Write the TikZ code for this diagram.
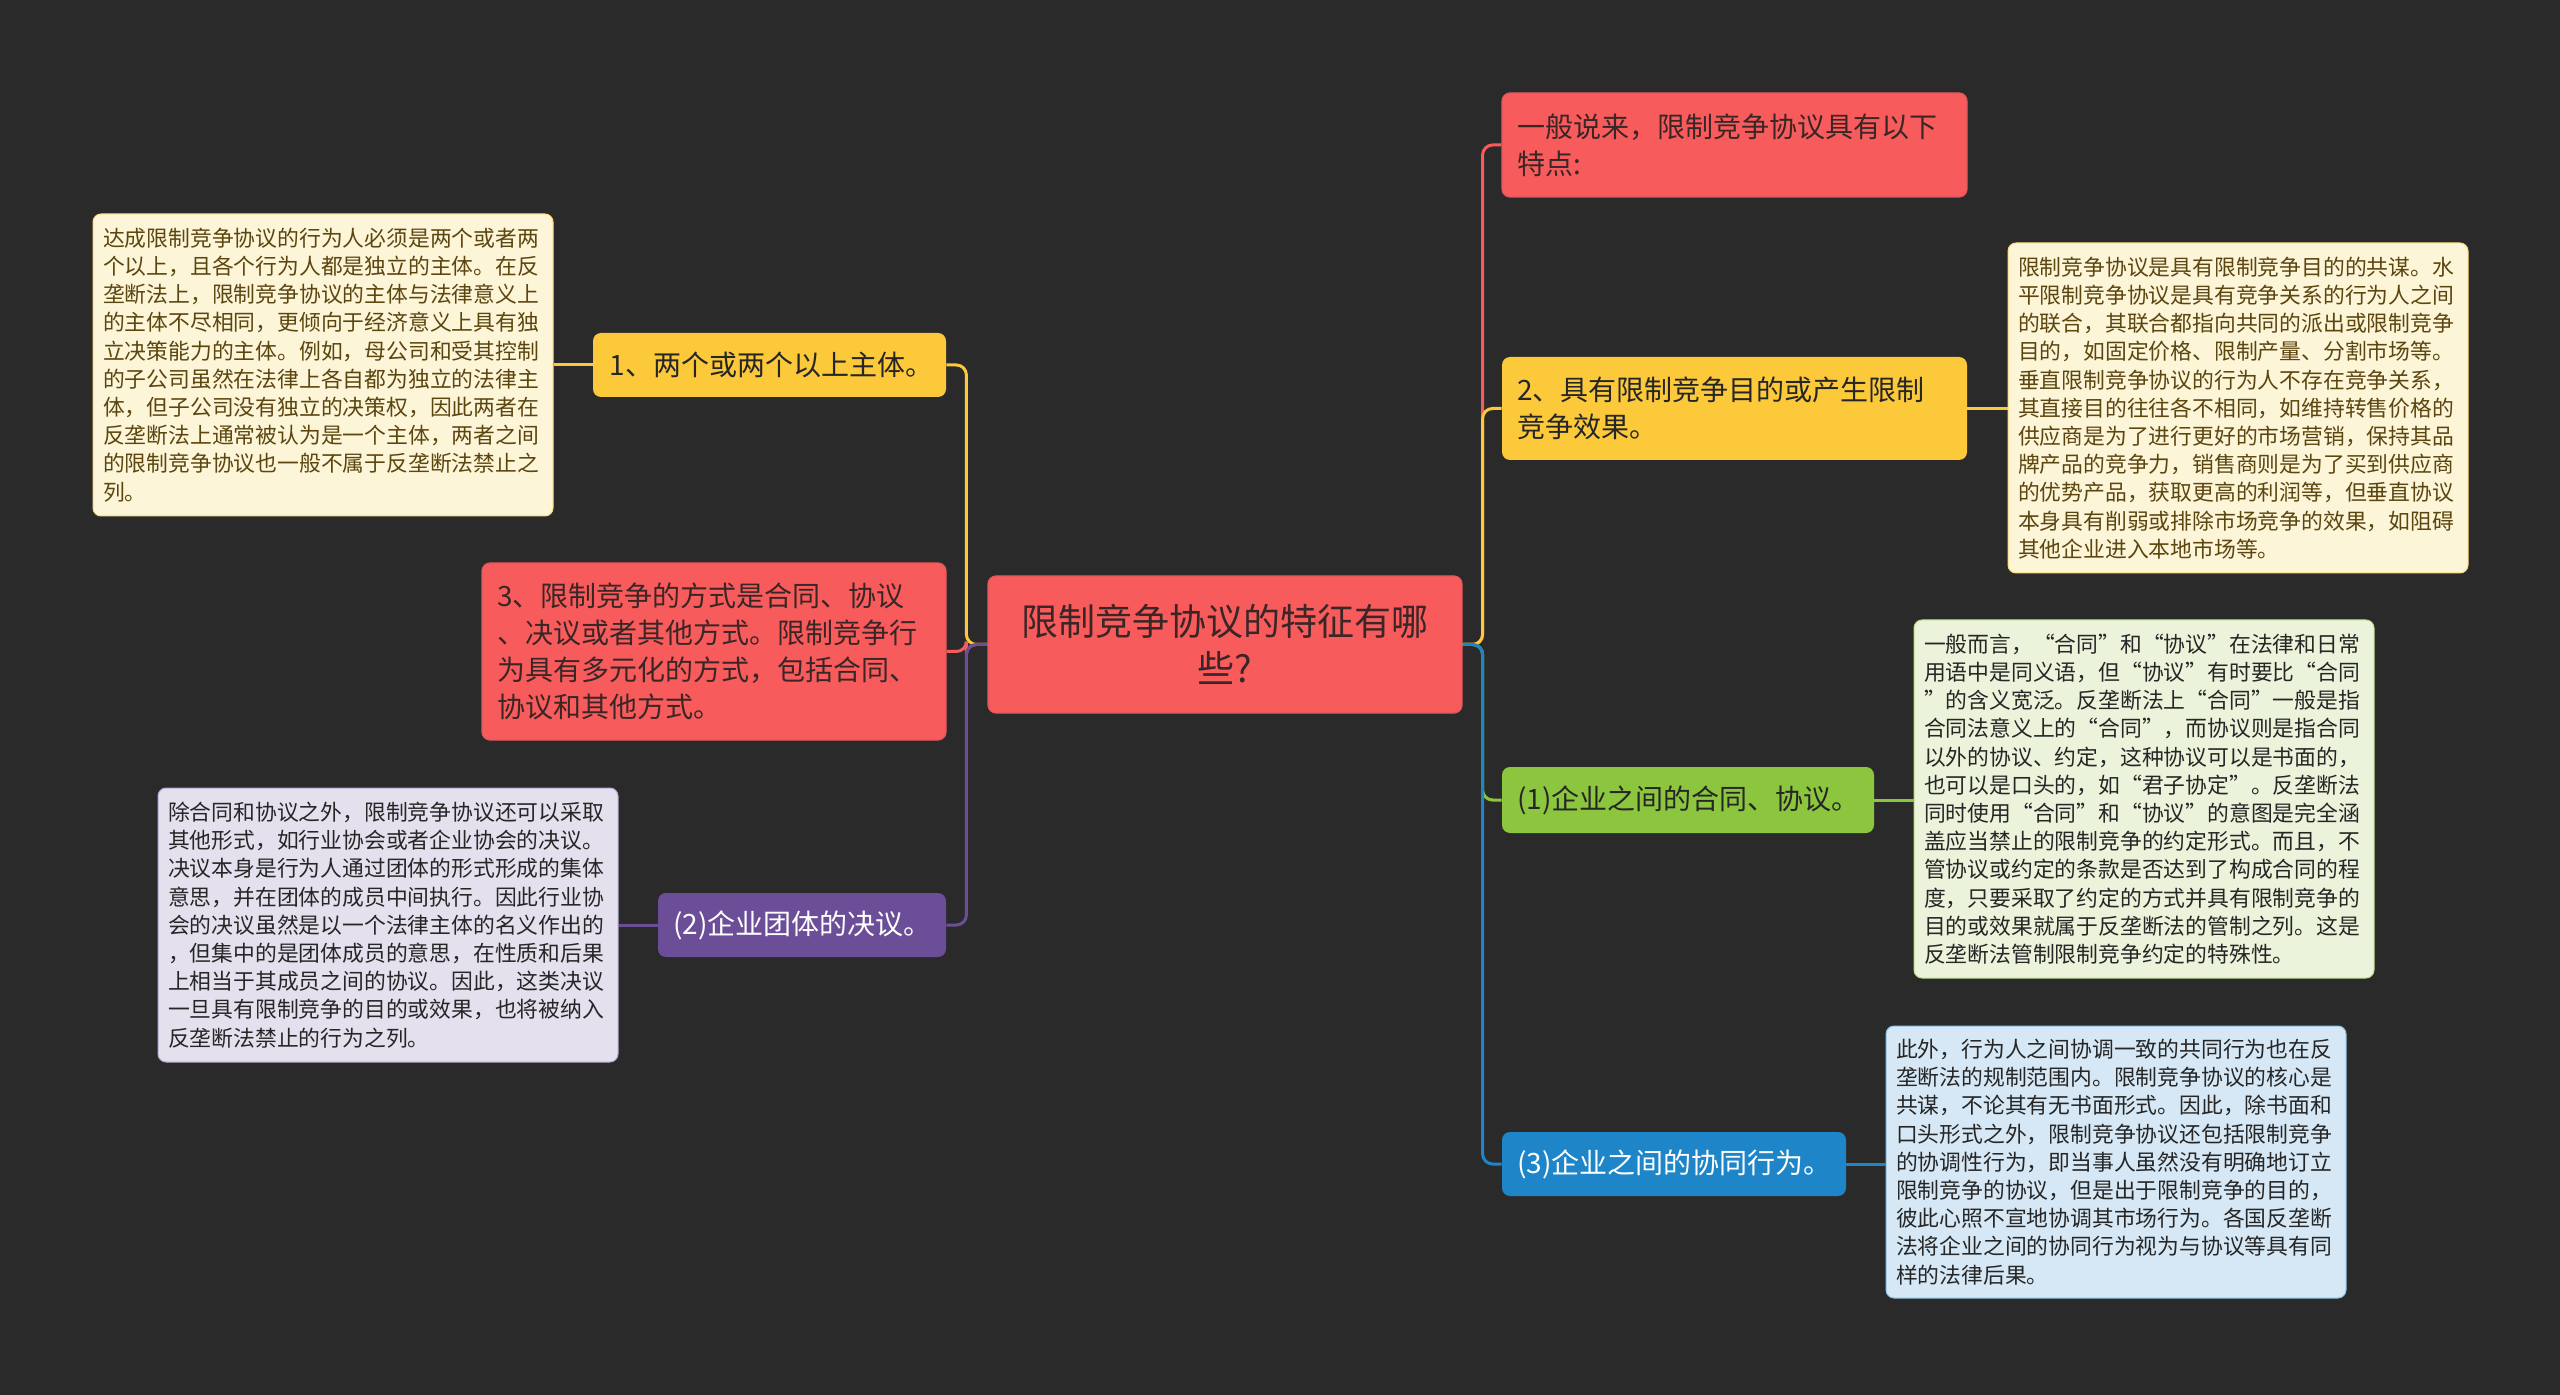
\documentclass[tikz,border=0pt]{standalone}
\usepackage{fontspec}
\setmainfont{Noto Sans CJK SC}
\definecolor{bg}{HTML}{2A2A2A}
\definecolor{cred}{HTML}{F85B5B}
\definecolor{credline}{HTML}{E0585E}
\definecolor{cyellow}{HTML}{FCC93A}
\definecolor{cgreen}{HTML}{8CC63F}
\definecolor{cblue}{HTML}{1E86C8}
\definecolor{cpurple}{HTML}{6C4E98}
\definecolor{fyellow}{HTML}{FDF5D8}
\definecolor{fgreen}{HTML}{EBF3DB}
\definecolor{fblue}{HTML}{D6E8F5}
\definecolor{fpurple}{HTML}{E5E0EE}
\definecolor{tdark}{HTML}{3A2626}
\definecolor{tbrown}{HTML}{5C4610}
\definecolor{tgray}{HTML}{262626}
\tikzset{
  box/.style={rounded corners=4pt, inner ysep=0pt, anchor=center},
  lvl/.style={box, font=\fontsize{14pt}{18.6pt}\selectfont, align=left, inner xsep=7.5pt},
  det/.style={box, font=\fontsize{10.9pt}{14.1pt}\selectfont, align=left, inner xsep=5pt, text width=220pt, minimum width=230pt},
  link/.style={line width=1.5pt, rounded corners=5pt},
  dlink/.style={line width=1.5pt},
}
\begin{document}
\begin{tikzpicture}[x=0.5pt, y=-0.5pt]
\fill[bg] (0,0) rectangle (2560,1395);
\useasboundingbox (0,0) rectangle (2560,1395);

% central topic
\node[box, fill=cred, draw=credline, line width=0.6pt, text=tdark, align=center,
  font=\fontsize{18.5pt}{23.3pt}\selectfont, minimum width=237pt, minimum height=68.5pt,
  text width=225pt] (c) at (1225,644.5) {限制竞争协议的特征有哪\\些?};

% right side level-1
\node[lvl, fill=cred, draw=credline, line width=0.6pt, text=tdark, minimum height=52pt, text width=217.5pt]
  (n1) at (1734.5,145) {一般说来，限制竞争协议具有以下\\特点:};
\node[lvl, fill=cyellow, text=black!85, minimum height=51.5pt, text width=217.5pt]
  (n2) at (1734.5,408.5) {2、具有限制竞争目的或产生限制\\竞争效果。};
\node[lvl, fill=cgreen, text=black!85, minimum height=33pt, text width=171pt]
  (n3) at (1688,800) {(1)企业之间的合同、协议。};
\node[lvl, fill=cblue, text=white, minimum height=32pt, text width=157pt]
  (n4) at (1674,1164) {(3)企业之间的协同行为。};

% left side level-1
\node[lvl, fill=cyellow, text=black!85, minimum height=32pt, text width=160pt, inner xsep=8.25pt]
  (l1) at (769.5,365) {1、两个或两个以上主体。};
\node[lvl, fill=cred, draw=credline, line width=0.6pt, text=tdark, minimum height=88.5pt, text width=217pt]
  (l3) at (714,651.5) {3、限制竞争的方式是合同、协议\\、决议或者其他方式。限制竞争行\\为具有多元化的方式，包括合同、\\协议和其他方式。};
\node[lvl, fill=cpurple, text=white, minimum height=32pt, text width=129pt]
  (l2) at (802,925) {(2)企业团体的决议。};

% detail boxes
\node[det, fill=fyellow, draw=cyellow!60!fyellow, line width=0.5pt, text=tbrown, minimum height=151pt]
  (dl1) at (323,365) {达成限制竞争协议的行为人必须是两个或者两\\个以上，且各个行为人都是独立的主体。在反\\垄断法上，限制竞争协议的主体与法律意义上\\的主体不尽相同，更倾向于经济意义上具有独\\立决策能力的主体。例如，母公司和受其控制\\的子公司虽然在法律上各自都为独立的法律主\\体，但子公司没有独立的决策权，因此两者在\\反垄断法上通常被认为是一个主体，两者之间\\的限制竞争协议也一般不属于反垄断法禁止之\\列。};
\node[det, fill=fpurple, draw=cpurple!40!fpurple, line width=0.5pt, text=tgray, minimum height=137pt]
  (dl2) at (388,925) {除合同和协议之外，限制竞争协议还可以采取\\其他形式，如行业协会或者企业协会的决议。\\决议本身是行为人通过团体的形式形成的集体\\意思，并在团体的成员中间执行。因此行业协\\会的决议虽然是以一个法律主体的名义作出的\\，但集中的是团体成员的意思，在性质和后果\\上相当于其成员之间的协议。因此，这类决议\\一旦具有限制竞争的目的或效果，也将被纳入\\反垄断法禁止的行为之列。};
\node[det, fill=fyellow, draw=cyellow!60!fyellow, line width=0.5pt, text=tbrown, minimum height=165pt]
  (dr2) at (2238,408) {限制竞争协议是具有限制竞争目的的共谋。水\\平限制竞争协议是具有竞争关系的行为人之间\\的联合，其联合都指向共同的派出或限制竞争\\目的，如固定价格、限制产量、分割市场等。\\垂直限制竞争协议的行为人不存在竞争关系，\\其直接目的往往各不相同，如维持转售价格的\\供应商是为了进行更好的市场营销，保持其品\\牌产品的竞争力，销售商则是为了买到供应商\\的优势产品，获取更高的利润等，但垂直协议\\本身具有削弱或排除市场竞争的效果，如阻碍\\其他企业进入本地市场等。};
\node[det, fill=fgreen, draw=cgreen!50!fgreen, line width=0.5pt, text=tgray, minimum height=179pt, minimum width=229pt]
  (dr3) at (2144,799) {一般而言，“合同”和“协议”在法律和日常\\用语中是同义语，但“协议”有时要比“合同\\”的含义宽泛。反垄断法上“合同”一般是指\\合同法意义上的“合同”，而协议则是指合同\\以外的协议、约定，这种协议可以是书面的，\\也可以是口头的，如“君子协定”。反垄断法\\同时使用“合同”和“协议”的意图是完全涵\\盖应当禁止的限制竞争的约定形式。而且，不\\管协议或约定的条款是否达到了构成合同的程\\度，只要采取了约定的方式并具有限制竞争的\\目的或效果就属于反垄断法的管制之列。这是\\反垄断法管制限制竞争约定的特殊性。};
\node[det, fill=fblue, draw=cblue!40!fblue, line width=0.5pt, text=tgray, minimum height=136pt, minimum width=229pt]
  (dr4) at (2116,1162) {此外，行为人之间协调一致的共同行为也在反\\垄断法的规制范围内。限制竞争协议的核心是\\共谋，不论其有无书面形式。因此，除书面和\\口头形式之外，限制竞争协议还包括限制竞争\\的协调性行为，即当事人虽然没有明确地订立\\限制竞争的协议，但是出于限制竞争的目的，\\彼此心照不宣地协调其市场行为。各国反垄断\\法将企业之间的协同行为视为与协议等具有同\\样的法律后果。};

% connectors: right side
\draw[link, draw=cred] (c.east) -- ++(20,0) |- (n1.west);
\draw[link, draw=cyellow] (c.east) -- ++(20,0) |- (n2.west);
\draw[link, draw=cgreen] (c.east) -- ++(20,0) |- (n3.west);
\draw[link, draw=cblue] (c.east) -- ++(20,0) |- (n4.west);
% connectors: left side
\draw[link, draw=cyellow] (c.west) -- ++(-21,0) |- (l1.east);
\draw[link, draw=cred] (c.west) -- ++(-21,0) |- (l3.east);
\draw[link, draw=cpurple] (c.west) -- ++(-21,0) |- (l2.east);
% connectors to details
\draw[dlink, draw=cyellow] (n2.east) -- (n2.east -| dr2.west);
\draw[dlink, draw=cgreen] (n3.east) -- (n3.east -| dr3.west);
\draw[dlink, draw=cblue] (n4.east) -- (n4.east -| dr4.west);
\draw[dlink, draw=cyellow] (l1.west) -- (l1.west -| dl1.east);
\draw[dlink, draw=cpurple] (l2.west) -- (l2.west -| dl2.east);
\end{tikzpicture}
\end{document}
